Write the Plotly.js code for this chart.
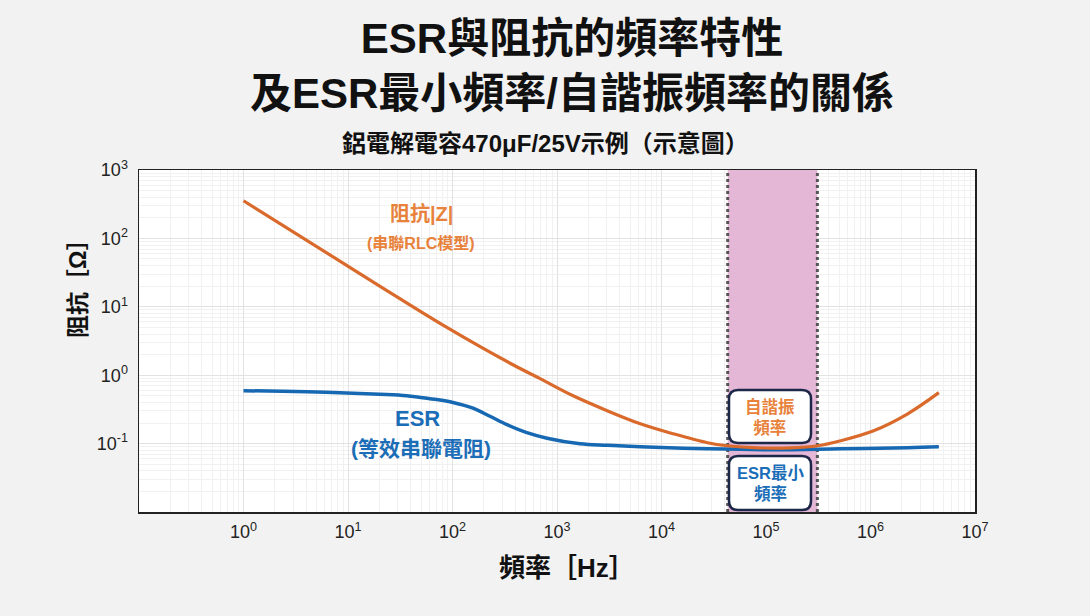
<!DOCTYPE html>
<html>
<head>
<meta charset="utf-8">
<script src="https://cdn.plot.ly/plotly-3.0.1.min.js"></script>
<style>html,body{margin:0;padding:0;background:#f2f2f2;}</style>
</head>
<body>
<div id="chart" style="width:1090px;height:616px;"></div>
<script>
// ---- data ----
const zFreq = [1, 20.1, 88.3, 379, 689, 1426, 3020, 6270, 12980, 27500, 42700, 82900, 171800, 311600, 517600, 1070000, 2270000, 4510000];
const impedance = [355, 20.1, 5.0, 1.42, 0.89, 0.50, 0.303, 0.195, 0.139, 0.103, 0.093, 0.0867, 0.0867, 0.093, 0.110, 0.154, 0.273, 0.556];

const esrFreq = [1, 8.33, 20.1, 36.5, 60.7, 98.7, 157, 228, 332, 506, 804, 1665, 3022, 6265, 27500, 118000, 517600, 2270000, 4510000];
const esr = [0.594, 0.556, 0.528, 0.502, 0.454, 0.403, 0.329, 0.251, 0.189, 0.146, 0.120, 0.0993, 0.0944, 0.0898, 0.0839, 0.0811, 0.0839, 0.0867, 0.0897];

const bandStart = 43000;   // Hz
const bandEnd = 310000;    // Hz
const yMin = 0.01, yMax = 1000;

const xTickVals = [1, 10, 100, 1000, 1e4, 1e5, 1e6, 1e7];
const xTickText = ['10<sup>0</sup>', '10<sup>1</sup>', '10<sup>2</sup>', '10<sup>3</sup>', '10<sup>4</sup>', '10<sup>5</sup>', '10<sup>6</sup>', '10<sup>7</sup>'];
const yTickVals = [0.1, 1, 10, 100, 1000];
const yTickText = ['10<sup>-1</sup>', '10<sup>0</sup>', '10<sup>1</sup>', '10<sup>2</sup>', '10<sup>3</sup>'];

// ---- styling ----
const FONT = 'Liberation Sans, Arial, "Noto Sans CJK TC", sans-serif';
const ORANGE_LINE = '#d96a2b', BLUE_LINE = '#1668b2';
const ORANGE_TEXT = '#e8823b', BLUE_TEXT = '#1a6db6';
const BOX_BORDER = '#1d2747';

const M = {l: 139, r: 115, t: 170, b: 104};
const W = 1090, H = 616;
const PW = W - M.l - M.r, PH = H - M.t - M.b;
const px = x => (x - M.l) / PW;
const py = y => (H - M.b - y) / PH;

function roundRect(x0, x1, y0, y1, r) {
  const rx = r / PW, ry = r / PH;
  const a = px(x0), b = px(x1), top = py(y0), bot = py(y1);
  return `M${a + rx},${top} L${b - rx},${top} Q${b},${top} ${b},${top - ry} ` +
         `L${b},${bot + ry} Q${b},${bot} ${b - rx},${bot} ` +
         `L${a + rx},${bot} Q${a},${bot} ${a},${bot + ry} ` +
         `L${a},${top - ry} Q${a},${top} ${a + rx},${top} Z`;
}

const traces = [
  { x: [bandStart, bandEnd, bandEnd, bandStart], y: [yMin, yMin, yMax, yMax],
    mode: 'lines', fill: 'toself', fillcolor: '#e4b7d7', line: {width: 0}, hoverinfo: 'skip' },
  { x: [bandStart, bandStart], y: [yMin, yMax], mode: 'lines',
    line: {color: '#555555', width: 3, dash: 'dot'}, hoverinfo: 'skip' },
  { x: [bandEnd, bandEnd], y: [yMin, yMax], mode: 'lines',
    line: {color: '#555555', width: 3, dash: 'dot'}, hoverinfo: 'skip' },
  { x: esrFreq, y: esr, mode: 'lines', name: 'ESR',
    line: {color: BLUE_LINE, width: 3.5, shape: 'spline', smoothing: 1.0} },
  { x: zFreq, y: impedance, mode: 'lines', name: '|Z|',
    line: {color: ORANGE_LINE, width: 3.2, shape: 'spline', smoothing: 1.0} }
];

const axisCommon = {
  type: 'log', showgrid: true, gridcolor: '#e2e2e2', gridwidth: 1,
  minor: {dtick: 'D1', showgrid: true, gridcolor: '#f1f1f1', gridwidth: 1},
  showline: true, mirror: true, linecolor: '#222', linewidth: 1.5,
  zeroline: false, ticks: 'outside', tickcolor: 'rgba(0,0,0,0)',
  tickfont: {family: FONT, size: 18, color: '#222'}, fixedrange: true
};

function ann(text, x, y, size, color, extra) {
  return Object.assign({text: text, xref: 'paper', yref: 'paper', x: px(x), y: py(y),
    xanchor: 'center', yanchor: 'middle', showarrow: false,
    font: {family: FONT, size: size, weight: 'bold', color: color}}, extra || {});
}

const layout = {
  width: W, height: H, margin: M, showlegend: false,
  paper_bgcolor: '#f2f2f2', plot_bgcolor: '#ffffff',
  font: {family: FONT},
  title: {
    text: 'ESR與阻抗的頻率特性<br>及ESR最小頻率/自諧振頻率的關係',
    font: {family: FONT, size: 42, weight: 'bold', color: '#111'},
    x: 572 / W, xanchor: 'center', xref: 'container',
    y: 1 - 53 / H, yanchor: 'top', yref: 'container'
  },
  xaxis: Object.assign({}, axisCommon, {range: [-1, 7], tickvals: xTickVals, ticktext: xTickText, ticklen: 3}),
  yaxis: Object.assign({}, axisCommon, {range: [-2, 3], tickvals: yTickVals, ticktext: yTickText, ticklen: 6}),
  shapes: [
    {type: 'path', xref: 'paper', yref: 'paper', path: roundRect(729, 811, 390, 443, 9),
     fillcolor: '#ffffff', line: {color: BOX_BORDER, width: 2.5}},
    {type: 'path', xref: 'paper', yref: 'paper', path: roundRect(729, 811, 456, 510, 9),
     fillcolor: '#ffffff', line: {color: BOX_BORDER, width: 2.5}}
  ],
  annotations: [
    ann('鋁電解電容470μF/25V示例（示意圖）', 545, 143, 24, '#111'),
    ann('阻抗［Ω］', 78, 283, 23, '#111', {textangle: -90}),
    ann('頻率［Hz］', 567, 568, 26, '#111'),
    ann('阻抗|Z|', 421, 213, 20, ORANGE_TEXT),
    ann('(串聯RLC模型)', 421, 243, 16, ORANGE_TEXT),
    ann('ESR', 417, 418, 22, BLUE_TEXT),
    ann('(等效串聯電阻)', 421, 448, 21, BLUE_TEXT),
    ann('自諧振<br>頻率', 770, 417, 16.5, ORANGE_TEXT),
    ann('ESR最小<br>頻率', 770, 483, 16.5, BLUE_TEXT)
  ]
};

Plotly.newPlot('chart', traces, layout, {staticPlot: true, displayModeBar: false});
</script>
</body>
</html>
